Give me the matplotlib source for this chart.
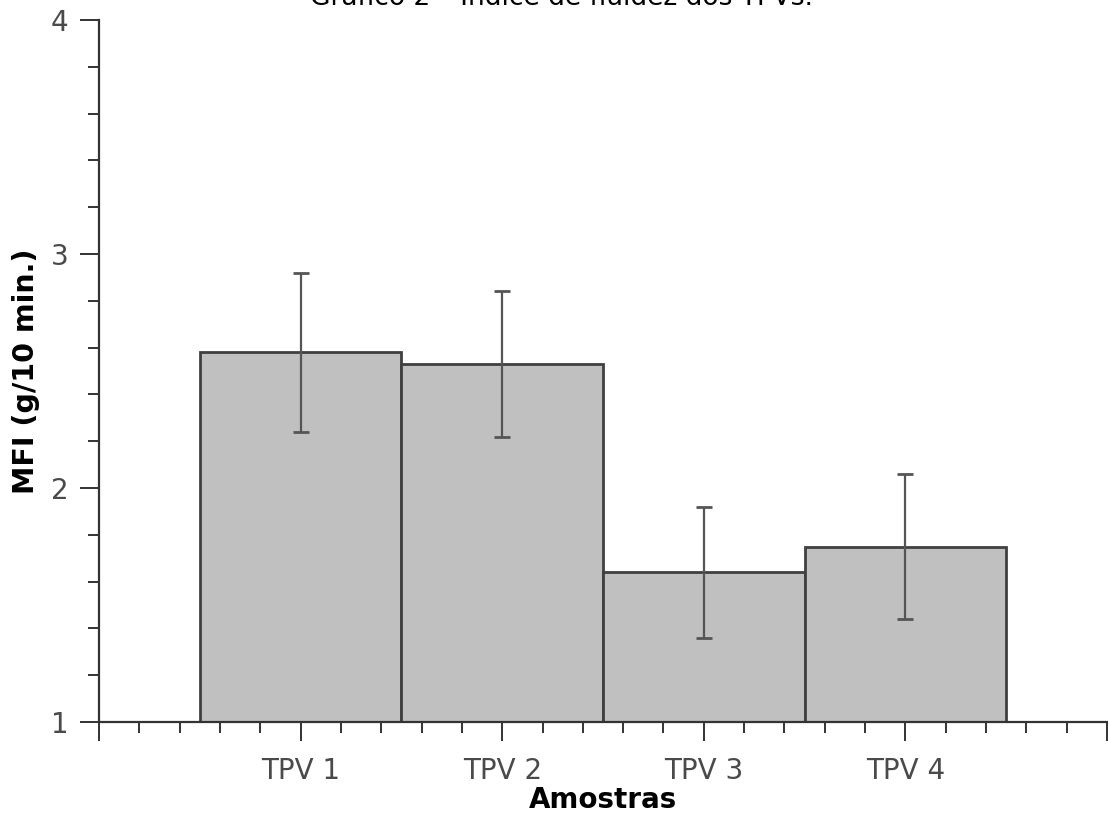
import numpy as np
import matplotlib
matplotlib.use("Agg")
import matplotlib.pyplot as plt
from matplotlib.ticker import MultipleLocator, FixedLocator

# values
samples = ["TPV 1", "TPV 2", "TPV 3", "TPV 4"]
mfi = [2.58, 2.53, 1.64, 1.75]
mfi_err = [0.34, 0.31, 0.28, 0.31]
title = "Gráfico 2 – Índice de fluidez dos TPVs."

x = np.arange(1, len(samples) + 1)

fig = plt.figure(figsize=(11.08, 8.16), dpi=100)
ax = fig.add_axes([99 / 1108, 94 / 816, 1008 / 1108, 702 / 816])

ax.bar(x, mfi, width=1.0, color="#c0c0c0", edgecolor="#404040", linewidth=2)
ax.errorbar(x, mfi, yerr=mfi_err, fmt="none", ecolor="#555555",
            elinewidth=1.6, capsize=6, capthick=2)

ax.set_xlim(0, 5)
ax.set_ylim(1, 4)

# ticks: majors at every category plus both ends, minors each 0.2
ax.xaxis.set_major_locator(FixedLocator(range(0, 6)))
ax.set_xticklabels([""] + samples + [""])
ax.xaxis.set_minor_locator(MultipleLocator(0.2))
ax.yaxis.set_major_locator(MultipleLocator(1))
ax.yaxis.set_minor_locator(MultipleLocator(0.2))

ax.tick_params(which="major", length=14, width=1.4, color="#333333",
               labelsize=20, labelcolor="#4a4a4a", pad=8)
ax.tick_params(axis="x", which="major", pad=11)
ax.tick_params(which="minor", length=8, width=1.4, color="#333333")

for s in ["top", "right"]:
    ax.spines[s].set_visible(False)
for s in ["left", "bottom"]:
    ax.spines[s].set_color("#333333")
    ax.spines[s].set_linewidth(1.6)

ax.set_ylabel("MFI (g/10 min.)", fontsize=20.5, fontweight="bold", va="center")
ax.yaxis.set_label_coords(-0.0724, 0.5)
ax.set_xlabel("Amostras", fontsize=20, fontweight="bold", va="baseline")
ax.xaxis.set_label_coords(0.5, -0.1225)

# title sits partly off the top edge, as in the source image
fig.text(562 / 1108, 1 - 5 / 816, title, ha="center", va="baseline", fontsize=19)

fig.savefig("out.png", dpi=100)
